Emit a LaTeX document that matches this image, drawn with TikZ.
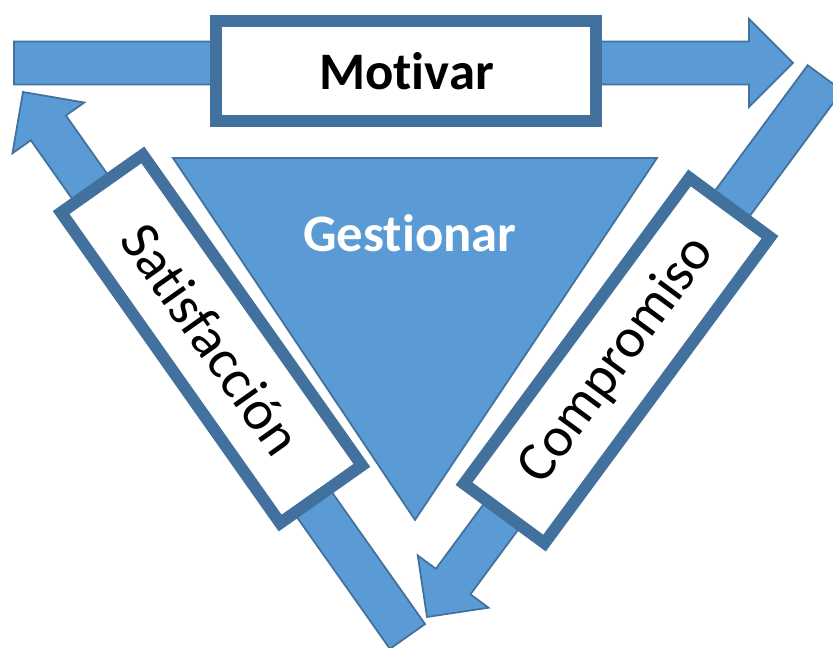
\documentclass[tikz,border=0pt]{standalone}
\usepackage{fontspec}
\setmainfont{Carlito}[Ligatures=NoCommon]
\usetikzlibrary{calc}
\definecolor{fillblue}{HTML}{5B9BD5}
\definecolor{edgeblue}{HTML}{41719C}

% block arrow from #1 to its tip #2
\newcommand{\blockarr}[2]{%
  \coordinate (hb) at ($(#2)!0.44cm!(#1)$);
  \draw[blockarrow] ($(#1)!0.215cm!90:(#2)$) -- ($(hb)!0.215cm!-90:(#1)$)
    -- ($(hb)!0.44cm!-90:(#1)$) -- (#2) -- ($(hb)!0.44cm!90:(#1)$)
    -- ($(hb)!0.215cm!90:(#1)$) -- ($(#1)!0.215cm!-90:(#2)$) -- cycle;}

\begin{document}
\begin{tikzpicture}[
  blockarrow/.style={draw=edgeblue,fill=fillblue,line width=0.5pt,line join=miter},
  labelbox/.style={rectangle,draw=edgeblue,fill=white,line width=0.12cm,
                   minimum width=3.8cm,minimum height=1cm,inner sep=0pt,text=black},
  tri/.style={draw=edgeblue,fill=fillblue,line width=0.5pt}
]
\useasboundingbox (0,0) rectangle (8.33,6.48);
\clip (0,0) rectangle (8.33,6.48);

% --- arrow ends
\coordinate (mot-a) at (0.14,5.85);
\coordinate (mot-b) at (7.93,5.85);
\coordinate (com-a) at (8.25,5.70);
\coordinate (com-b) at (4.27,0.31);
\coordinate (sat-a) at (4.075,0.115);
\coordinate (sat-b) at (0.23,5.56);

\blockarr{mot-a}{mot-b}
\blockarr{com-a}{com-b}
\blockarr{sat-a}{sat-b}

% --- centre
\draw[tri] (1.73,4.90) coordinate (tl) -- (6.57,4.90) coordinate (tr)
  -- (4.15,1.28) coordinate (bt) -- cycle;
\node[anchor=base,text=white,font=\bfseries\fontsize{15}{18}\selectfont]
  (gestionar) at (4.10,3.96) {Gestionar};

% --- boxes
\node[labelbox,font=\bfseries\fontsize{15}{18}\selectfont]
  (motivar) at (4.065,5.77) {Motivar};
\node[labelbox,rotate=53.6,font=\fontsize{16}{19}\selectfont]
  (compromiso) at (6.17,2.875) {Compromiso};
\node[labelbox,rotate=-54.8,font=\fontsize{16}{19}\selectfont]
  (satisfaccion) at (2.115,3.09) {Satisfacción};
\end{tikzpicture}
\end{document}
